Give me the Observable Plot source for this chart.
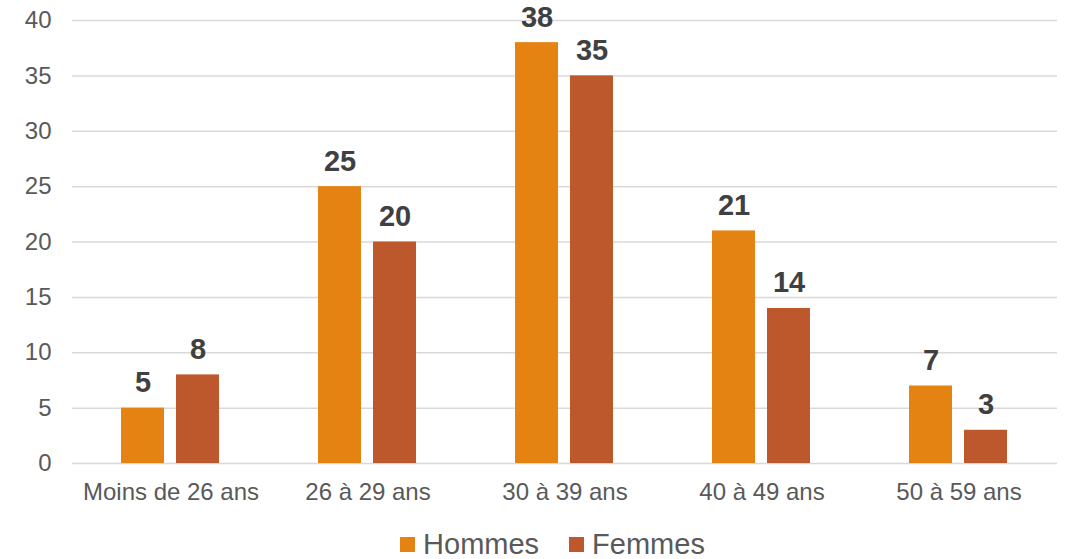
<!DOCTYPE html>
<html>
<head>
<meta charset="utf-8">
<script src="https://cdn.jsdelivr.net/npm/d3@7"></script>
<script src="https://cdn.jsdelivr.net/npm/@observablehq/plot@0.6"></script>
<style>
  body { margin: 0; background: #fff; font-family: "Liberation Sans", Arial, sans-serif; }
  #legend { display: flex; justify-content: center; align-items: center; font-size: 29px; color: #595959; line-height: 28px; height: 28px; margin-top: 15px; padding-left: 36px; }
  .item { display: flex; align-items: center; margin: 0 15px; }
  .sw { width: 15px; height: 15px; margin-right: 8px; }
</style>
</head>
<body>
<div id="chart"></div>
<script>
const categories = ["Moins de 26 ans", "26 à 29 ans", "30 à 39 ans", "40 à 49 ans", "50 à 59 ans"];
const series = ["Hommes", "Femmes"];
const hommes = [5, 25, 38, 21, 7];
const femmes = [8, 20, 35, 14, 3];
const colors = ["#E48312", "#BD582C"];
const yTicks = [0, 5, 10, 15, 20, 25, 30, 35, 40];

const data = [];
categories.forEach((c, i) => {
  data.push({cat: c, s: "Hommes", v: hommes[i]});
  data.push({cat: c, s: "Femmes", v: femmes[i]});
});

const plot = Plot.plot({
  width: 1069,
  height: 515,
  marginLeft: 71,
  marginRight: 11,
  marginTop: 20,
  marginBottom: 52,
  style: {fontFamily: "'Liberation Sans', Arial, sans-serif", background: "#fff", overflow: "visible"},
  fx: {domain: categories, paddingInner: 0, paddingOuter: 0, label: null},
  x: {domain: series, paddingInner: 0.214, paddingOuter: 0.87, axis: null},
  y: {domain: [0, 40], label: null},
  color: {domain: series, range: colors},
  marks: [
    Plot.gridY(yTicks, {stroke: "#d9d9d9", strokeOpacity: 1, strokeWidth: 1.5}),
    Plot.barY(data, {fx: "cat", x: "s", y: "v", fill: "s"}),
    Plot.text(data, {fx: "cat", x: "s", y: "v", text: d => String(d.v), lineAnchor: "bottom", dy: -16, fontSize: 29, fontWeight: "bold", fill: "#404040"}),
    Plot.axisY(yTicks, {tickSize: 0, tickPadding: 21, fontSize: 24, fill: "#595959", label: null}),
    Plot.axisFx({anchor: "bottom", tickSize: 0, tickPadding: 19, fontSize: 24, fill: "#595959", label: null})
  ]
});
document.getElementById("chart").appendChild(plot);

const legend = document.createElement("div");
legend.id = "legend";
series.forEach((s, i) => {
  const it = document.createElement("div");
  it.className = "item";
  const sw = document.createElement("div");
  sw.className = "sw";
  sw.style.background = colors[i];
  const t = document.createElement("span");
  t.textContent = s;
  it.appendChild(sw); it.appendChild(t);
  legend.appendChild(it);
});
document.body.appendChild(legend);
</script>
</body>
</html>
